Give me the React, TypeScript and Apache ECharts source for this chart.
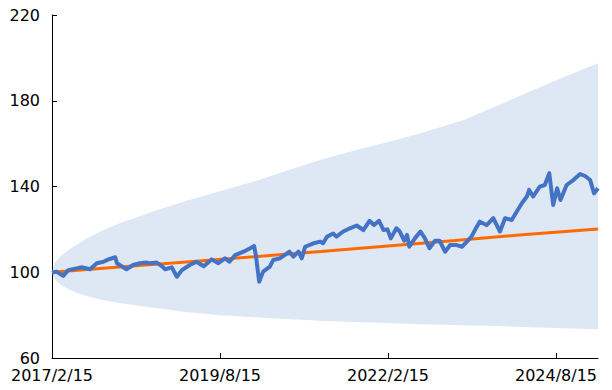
import React, { useEffect, useRef } from "react";
import * as echarts from "echarts";

// x values are months elapsed since 2017/2/15
const bandMonths = [0, 0.5, 1, 2, 3, 4.5, 6, 9, 12, 18, 24, 30, 36, 42, 48, 54, 60, 66, 72, 73.2, 78, 84, 90, 97.5];
const bandUpper = [100, 104.5, 106, 108.5, 110.5, 113, 115.5, 119.5, 122.7, 128.3, 133.3, 137.8, 142.3, 147.5, 152.5, 156.8, 160.8, 165, 169.8, 170.7, 176, 182.8, 189.6, 197.5];
const bandLower = [100, 96.8, 95.3, 93.3, 92, 90.3, 89, 87, 85.6, 83.4, 81.4, 80, 79, 78.2, 77.4, 76.8, 76.3, 75.8, 75.4, 75.3, 75, 74.5, 74, 73.4];

const expectedMonths = [0, 12, 24, 36, 48, 60, 72, 84, 97.5];
const expectedValues = [100, 102.4, 104.8, 107.2, 109.7, 112.3, 114.8, 117.5, 120.2];

const actualMonths = [
  0, 0.8, 2.0, 2.9, 4.4, 5.3, 6.8, 8.0, 9.2, 10.1, 11.3, 11.6, 12.1, 13.3, 14.5, 15.7, 16.9, 17.5, 18.7, 19.6,
  20.2, 21.4, 22.3, 23.2, 24.6, 25.8, 27.1, 28.5, 29.7, 30.9, 31.7, 32.7, 34.2, 35.4, 36.1, 36.4, 37.0, 37.7,
  38.9, 39.5, 40.7, 42.4, 43.1, 44.0, 44.6, 45.2, 46.7, 47.9, 48.4, 49.1, 50.2, 50.8, 52.0, 53.2, 54.4, 55.6,
  56.7, 57.5, 58.4, 59.2, 59.9, 60.5, 61.5, 62.1, 62.9, 63.4, 63.8, 64.8, 65.8, 66.6, 67.4, 68.4, 69.2, 70.2,
  71.1, 72.3, 73.2, 74.1, 74.9, 75.8, 76.4, 77.6, 78.8, 80.0, 80.9, 82.1, 83.0, 83.9, 84.8, 85.2, 85.9, 87.1,
  88.0, 88.8, 89.5, 90.2, 90.8, 91.9, 93.1, 94.3, 95.2, 96.1, 96.8, 97.5,
];
const actualValues = [
  99.8, 100.3, 98.3, 101, 101.8, 102.3, 101.4, 104.2, 104.9, 106, 107, 104.2, 103.4, 101.4, 103.4, 104.2, 104.5, 104.2, 104.5, 102.9,
  101.4, 102.3, 97.9, 101, 103.4, 104.9, 102.8, 106, 104.2, 106.5, 104.9, 108, 109.6, 111.2, 112.2, 108, 95.6, 100.3,
  102.6, 105.7, 106.5, 109.6, 107.3, 109.6, 106.5, 111.9, 113.5, 114.3, 113.5, 116.6, 118.1, 116.6, 119, 120.5, 121.8, 119.7,
  124, 122, 124, 119.7, 120, 115.8, 120.5, 119, 114.7, 117.4, 111.9, 115.8, 119, 115.8, 111.2, 114.7, 114.7, 109.6,
  112.7, 112.7, 111.9, 114.3, 116.6, 121, 123.6, 122, 125.2, 119, 125.2, 124.4, 128.3, 132.2, 135.3, 138.4, 135.3, 139.9,
  140.7, 146.2, 131.4, 139.2, 133.7, 140.7, 143, 145.8, 144.9, 143, 136.8, 139.2,
];

const xLabelMonths = [0, 30, 60, 90];
const xTickMonths = [30, 60, 90];
const yTicks = [60, 100, 140, 180, 220];

const monthToLabel = (v: number) => {
  const t = 1 + Math.round(v);
  const y = 2017 + Math.floor(t / 12);
  const m = (t % 12) + 1;
  return `${y}/${m}/15`;
};

export default function App() {
  const ref = useRef<HTMLDivElement>(null);
  useEffect(() => {
    if (!ref.current) return;
    const chart = echarts.init(ref.current, null, { renderer: "svg" });
    const textStyle = { fontFamily: "DejaVu Sans", fontSize: 16, color: "#000", lineHeight: 13 };
    chart.setOption({
      animation: false,
      backgroundColor: "#fff",
      grid: { left: 52, right: 14, top: 15, bottom: 32, containLabel: false },
      xAxis: {
        type: "value",
        min: 0,
        max: bandMonths[bandMonths.length - 1],
        interval: 30,
        splitLine: { show: false },
        axisLine: { show: true, lineStyle: { color: "#000", width: 1 } },
        axisTick: { show: true, inside: true, length: 5, customValues: xTickMonths, lineStyle: { color: "#000" } },
        axisLabel: {
          ...textStyle,
          margin: 11,
          customValues: xLabelMonths,
          formatter: (v: number) => (xLabelMonths.includes(Math.round(v)) && Math.abs(v - Math.round(v)) < 1e-6 ? monthToLabel(v) : ""),
        },
      },
      yAxis: {
        type: "value",
        min: yTicks[0],
        max: yTicks[yTicks.length - 1],
        interval: 40,
        splitLine: { show: false },
        axisLine: { show: true, lineStyle: { color: "#000", width: 1 } },
        axisTick: { show: true, inside: true, length: 5, lineStyle: { color: "#000" } },
        axisLabel: { ...textStyle, margin: 12 },
      },
      series: [
        {
          type: "custom",
          data: [[0, 100]],
          z: 1,
          silent: true,
          renderItem: (_params: any, api: any) => {
            const up = bandMonths.map((m, i) => api.coord([m, bandUpper[i]]));
            const lo = bandMonths.map((m, i) => api.coord([m, bandLower[i]])).reverse();
            return {
              type: "polygon",
              shape: { points: [...up, ...lo] },
              style: { fill: "#dee8f5", stroke: "none" },
            };
          },
        },
        {
          type: "line",
          data: expectedMonths.map((m, i) => [m, expectedValues[i]]),
          showSymbol: false,
          z: 3,
          lineStyle: { color: "#ff6a00", width: 3 },
        },
        {
          type: "line",
          data: actualMonths.map((m, i) => [m, actualValues[i]]),
          showSymbol: false,
          z: 4,
          lineStyle: { color: "#4472c4", width: 4, join: "round" },
        },
      ],
    });
    return () => chart.dispose();
  }, []);
  return <div ref={ref} style={{ position: "fixed", left: 0, top: 0, width: 612, height: 390 }} />;
}
